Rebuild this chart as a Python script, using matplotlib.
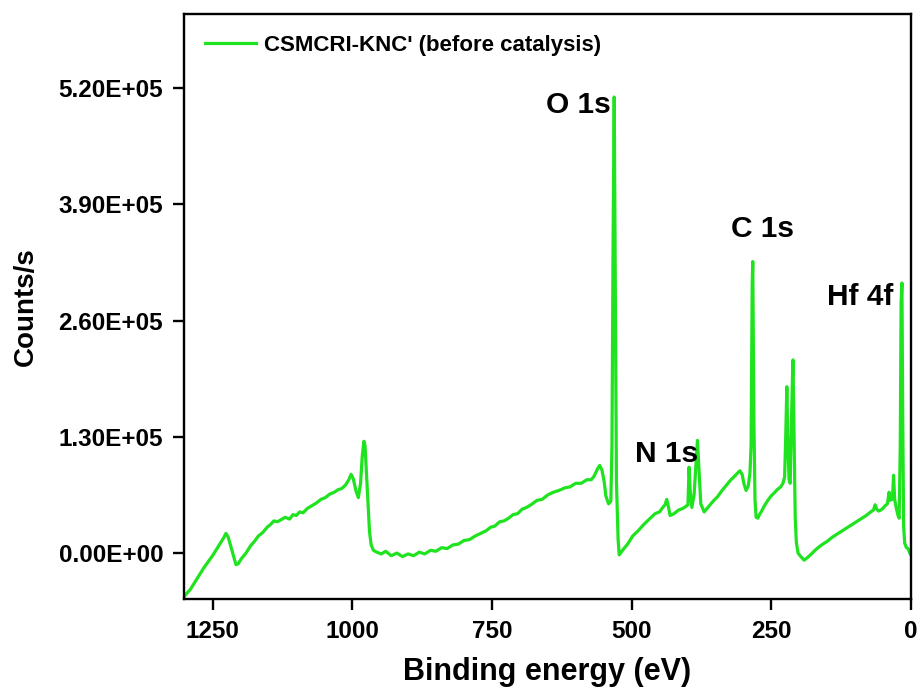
import numpy as np
import matplotlib
matplotlib.use('Agg')
import matplotlib.pyplot as plt
from matplotlib.ticker import FuncFormatter

# XPS survey spectrum
# binding energy (eV), descending
energy = [1301, 1296, 1290, 1282, 1274, 1266, 1258, 1250, 1242, 1235, 1230, 1226, 1222,
          1217, 1212, 1208, 1204, 1198, 1190, 1182, 1175, 1168, 1160, 1152, 1146, 1140,
          1134, 1128, 1120, 1112, 1106, 1100, 1094, 1088, 1080, 1072, 1064, 1056, 1048,
          1040, 1032, 1025, 1019, 1012, 1006, 1002, 998, 993, 989, 985, 982, 979,
          977, 975, 972, 969, 966, 962, 956, 948, 940, 930, 920, 910, 900, 890,
          880, 870, 860, 850, 840, 830, 820, 810, 800, 790, 780, 770, 760, 752,
          745, 736, 728, 720, 712, 704, 696, 688, 680, 669, 660, 650, 640, 630,
          619, 610, 600, 590, 580, 572, 567, 561, 557, 553, 549, 546, 541, 537,
          535, 533, 531, 529, 527, 524, 522, 515, 507, 498, 488, 478, 468, 458,
          450, 444, 440, 437, 434, 431, 424, 416, 408, 403, 399, 397, 395, 392,
          388, 385, 382, 379, 376, 370, 362, 354, 346, 338, 330, 322, 317, 311,
          306, 302, 299, 295, 291, 288, 286, 284, 283, 281, 279, 277, 274, 271,
          268, 262, 256, 250, 245, 239, 233, 229, 226, 224, 222, 220, 218, 216,
          214, 212, 211, 209, 207, 205, 202, 197, 191, 185, 178, 170, 160, 150,
          140, 130, 120, 110, 100, 90, 80, 72, 67, 64, 61, 58, 54, 50,
          46, 42, 39, 37, 35, 33, 31, 29, 26, 23, 21, 19, 17.5, 16,
          14.5, 13, 11, 8, 5, 2, 0]
counts = [-4.9, -4.5, -4.1, -3.3, -2.5, -1.7, -1.0, -0.3, 0.5, 1.2, 1.7, 2.2, 1.8,
          0.7, -0.4, -1.3, -1.2, -0.6, 0.0, 0.8, 1.3, 1.9, 2.3, 2.9, 3.2, 3.6,
          3.5, 3.7, 4.0, 3.8, 4.3, 4.2, 4.6, 4.5, 5.0, 5.3, 5.6, 6.0, 6.2,
          6.6, 6.8, 7.1, 7.2, 7.6, 8.2, 8.8, 8.3, 6.9, 6.2, 7.8, 10.8, 12.5,
          12.0, 9.6, 6.0, 2.4, 0.9, 0.3, 0.1, -0.1, 0.2, -0.3, 0.0, -0.4, -0.1, -0.3,
          0.1, -0.1, 0.3, 0.2, 0.6, 0.5, 0.9, 1.0, 1.4, 1.5, 1.9, 2.2, 2.5, 2.9,
          3.0, 3.5, 3.6, 3.9, 4.3, 4.4, 4.9, 5.1, 5.4, 5.9, 6.0, 6.5, 6.8, 7.0,
          7.3, 7.4, 7.8, 7.8, 8.2, 8.2, 8.6, 9.4, 9.8, 9.3, 8.0, 6.4, 5.5, 5.8,
          12.0, 35.0, 51.0, 30.0, 8.0, 1.5, -0.2, 0.4, 1.0, 1.9, 2.5, 3.2, 3.8, 4.4,
          4.6, 5.1, 5.4, 6.0, 5.2, 4.2, 4.4, 4.8, 5.0, 5.2, 5.4, 9.6, 7.0, 5.1,
          6.5, 9.5, 12.6, 9.0, 5.5, 4.6, 5.2, 5.8, 6.3, 7.0, 7.6, 8.2, 8.5, 8.9,
          9.2, 8.8, 7.8, 7.0, 7.5, 9.0, 12.0, 30.0, 32.6, 15.0, 6.0, 4.0, 3.9, 4.3,
          4.6, 5.3, 5.9, 6.4, 6.7, 7.1, 7.4, 7.8, 8.5, 13.0, 18.6, 12.0, 8.2, 7.8,
          14.0, 19.5, 21.6, 13.0, 4.0, 1.2, 0.0, -0.4, -0.8, -0.5, -0.1, 0.4, 0.9, 1.3,
          1.8, 2.2, 2.6, 3.0, 3.4, 3.8, 4.2, 4.6, 4.8, 5.4, 4.9, 4.7, 4.8, 5.0,
          5.3, 5.5, 6.8, 5.9, 6.1, 6.0, 8.7, 6.0, 5.0, 4.2, 3.9, 12.0, 28.0, 30.2,
          15.0, 3.0, 1.1, 0.6, 0.5, 0.0, -0.2]
counts = np.array(counts) * 1e4

label = "CSMCRI-KNC' (before catalysis)"
green = '#1EE31E'

peak_text = ['O 1s', 'N 1s', 'C 1s', 'Hf 4f']
peak_x = [537, 494, 265, 32]
peak_y = [4.92e5, 1.02e5, 3.53e5, 2.77e5]
peak_ha = ['right', 'left', 'center', 'right']

x_ticks = [1250, 1000, 750, 500, 250, 0]
y_ticks = [0, 1.3e5, 2.6e5, 3.9e5, 5.2e5]

plt.rcParams['font.family'] = ['Liberation Sans', 'DejaVu Sans']
plt.rcParams['font.weight'] = 'bold'

fig = plt.figure(figsize=(9.21, 6.95), dpi=100)
ax = fig.add_axes([0.1998, 0.138, 0.7892, 0.842])

ax.plot(energy, counts, color=green, lw=2.3, label=label)

for t, x, y, ha in zip(peak_text, peak_x, peak_y, peak_ha):
    ax.text(x, y, t, ha=ha, va='baseline', fontsize=21.5, fontweight='bold')

ax.set_xlim(1301, 0)
ax.set_ylim(-5.15e4, 6.03e5)
ax.set_xticks(x_ticks)
ax.set_yticks(y_ticks)
ax.yaxis.set_major_formatter(FuncFormatter(lambda v, p: '%.2E' % v))

ax.set_xlabel('Binding energy (eV)', fontsize=22, fontweight='bold', labelpad=10)
ax.set_ylabel('Counts/s', fontsize=20, fontweight='bold', labelpad=14)

ax.tick_params(axis='both', direction='out', length=8, width=1.7, labelsize=17.5, pad=7)
for lab in ax.get_xticklabels() + ax.get_yticklabels():
    lab.set_fontweight('bold')
for s in ax.spines.values():
    s.set_linewidth(1.7)

leg = ax.legend(loc='upper left', frameon=False, handlelength=2.3,
                handletextpad=0.35, borderaxespad=0.55, prop={'weight': 'bold', 'size': 16})

fig.savefig('out.png', dpi=100)
